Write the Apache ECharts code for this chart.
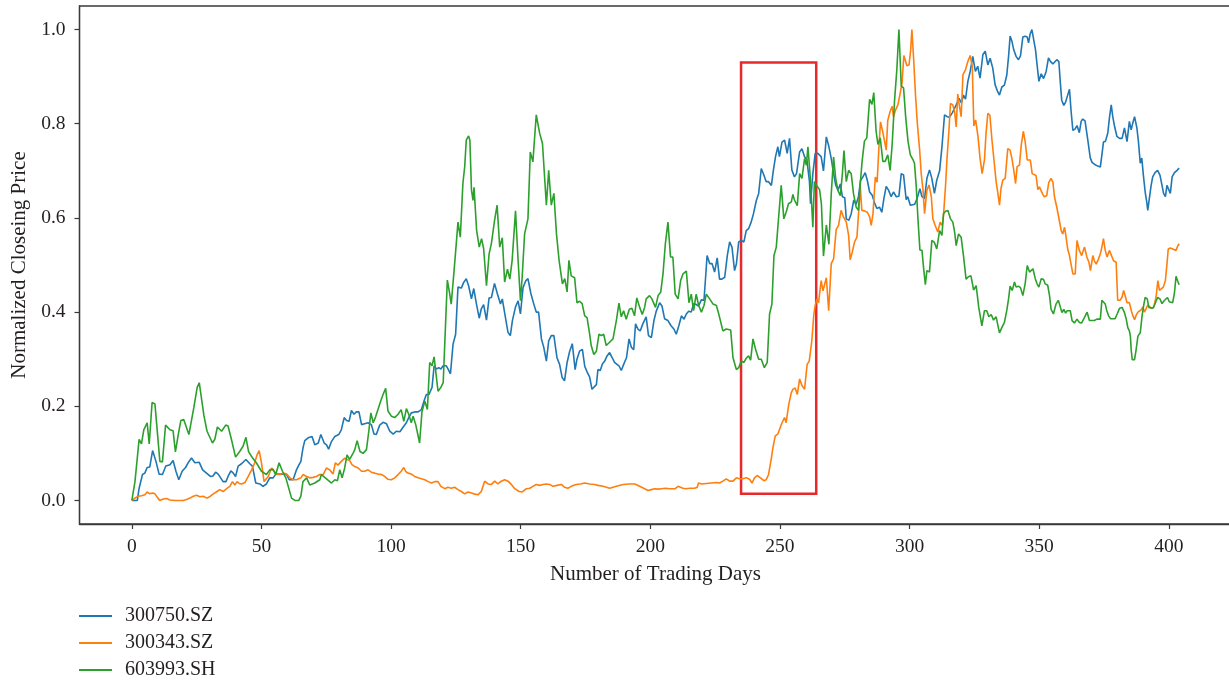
<!DOCTYPE html>
<html>
<head>
<meta charset="utf-8">
<title>Normalized Closeing Price</title>
<script src="https://cdn.jsdelivr.net/npm/echarts@6/dist/echarts.min.js"></script>
<style>
    html, body { margin: 0; padding: 0; background: #fff; }
    #x_echart { width: 1229px; height: 680px; }
</style>
</head>
<body>
<div id="x_echart"></div>
<script>
'use strict';

// tick labels
var xTicks = [0, 50, 100, 150, 200, 250, 300, 350, 400];
var yTicks = [0, 0.2, 0.4, 0.6, 0.8, 1.0];
var names = ['300750.SZ', '300343.SZ', '603993.SH'];

// [trading day, normalized closing price]
var s300750 = [
    [0,0],[0.8,0],[2.1,0],[2.8,0.026],[4.1,0.055],[5,0.058],[5.9,0.07],[6.9,0.071],[8,0.106],[9.3,0.083],
    [10.5,0.056],[11.8,0.055],[13.1,0.073],[14.7,0.076],[15.9,0.085],[17,0.062],[18.1,0.044],[19.4,0.062],[20.7,0.07],[21.7,0.08],
    [23,0.09],[24.3,0.08],[26,0.081],[27.3,0.065],[28.8,0.058],[30.3,0.051],[31.3,0.052],[32.3,0.06],[33.3,0.056],[34,0.058],
    [35.2,0.04],[36.3,0.04],[37.1,0.051],[38.2,0.063],[39.1,0.058],[40,0.051],[41,0.073],[42.3,0.078],[44,0.087],[45.5,0.078],
    [46.5,0.073],[47.8,0.037],[49.4,0.035],[50.6,0.03],[51.9,0.035],[53.2,0.048],[54.5,0.048],[55.5,0.056],[56.8,0.056],[58.4,0.056],
    [59.7,0.055],[60.7,0.044],[62.2,0.044],[63.5,0.065],
    [64.1,0.072],[65.2,0.083],[66,0.111],[66.7,0.127],[68,0.133],[69.5,0.136],[70.6,0.118],[71.9,0.122],[72.9,0.14],[74.2,0.122],
    [75.1,0.118],[75.9,0.109],[77,0.125],[78.3,0.136],[79.8,0.14],[80.8,0.15],[81.9,0.176],[82.8,0.17],[83.8,0.168],[84.7,0.191],
    [85.7,0.183],[86.6,0.188],[87.6,0.188],[88.6,0.161],[89.8,0.163],[91.1,0.165],[92.4,0.161],[93.4,0.141],[94.3,0.14],[95.6,0.16],
    [96.9,0.166],[98.2,0.163],[99.5,0.147],[100.8,0.141],[102,0.147],[103.4,0.146],[104.4,0.154],[105.9,0.165],[106.8,0.176],[107.8,0.186],
    [109.1,0.188],[110.4,0.188],[111.7,0.193],[112.7,0.211],[113.6,0.225],[114.6,0.225],[115.8,0.24],[116.6,0.286],[117.5,0.279],[118.4,0.282],
    [119.2,0.279],[120.1,0.286],[121.3,0.286],[122,0.279],[122.9,0.269],[123.9,0.332],[124.9,0.353],[125.8,0.453],[126.4,0.456],[127.1,0.451],
    [128,0.463],[129,0.471],[129.9,0.456],
    [131,0.428],[131.9,0.45],[132.9,0.418],[134,0.387],[134.8,0.407],[135.7,0.416],[136.8,0.383],[137.8,0.43],[138.7,0.431],[139.9,0.461],
    [141,0.439],[142.2,0.417],[142.9,0.428],[144.1,0.389],[145.1,0.357],[146,0.35],[146.8,0.382],[148,0.411],[149,0.424],[149.9,0.396],
    [150.9,0.452],[152,0.467],[152.8,0.471],[153.9,0.44],[155,0.418],[156,0.4],[156.9,0.4],[158,0.343],[158.9,0.325],[159.9,0.296],
    [160.8,0.339],[161.8,0.35],[162.8,0.35],[164,0.303],[165,0.289],[166,0.261],[166.9,0.254],[167.9,0.293],[168.9,0.317],[169.9,0.333],
    [171,0.278],[171.7,0.3],[172.7,0.317],[173.8,0.321],[174.7,0.285],[175.6,0.273],[176.6,0.262],[177.5,0.236],[178.2,0.232],[179.2,0.246],
    [179.8,0.278],[180.7,0.276],[181.5,0.29],[182.4,0.296],[183.3,0.307],[184.3,0.314],[185.3,0.303],[186.2,0.293],[186.9,0.293],[188,0.285],
    [188.8,0.276],[189.8,0.29],[190.8,0.303],[191.8,0.343],[192.7,0.325],[193.6,0.32],[194.3,0.375],[195.2,0.364],[196.1,0.36],[197.1,0.375],
    [198.4,0.39],
    [199.3,0.35],[200.4,0.346],[201.4,0.382],[202.3,0.402],[203.6,0.42],[204.5,0.413],[205.5,0.386],[206.8,0.382],[208,0.371],[209.1,0.364],
    [210,0.353],[211,0.371],[212,0.392],[213,0.385],[213.9,0.396],[214.8,0.402],[215.8,0.4],[216.7,0.418],[217.7,0.416],[218.6,0.413],
    [219.7,0.426],[220.7,0.425],[221.2,0.464],[221.9,0.52],[222.9,0.503],[223.8,0.503],[224.8,0.485],[225.8,0.515],[226.7,0.47],[227.6,0.47],
    [228.7,0.474],[229.7,0.52],[230.6,0.549],[231.5,0.538],[232.5,0.488],[233.2,0.502],[234.1,0.549],[235.1,0.552],[236.1,0.549],[237,0.573],
    [237.9,0.577],[238.9,0.591],[239.8,0.609],[240.9,0.637],[241.8,0.652],[242.8,0.705],[243.8,0.691],[244.7,0.677],[245.6,0.677],[246.7,0.669],
    [247.5,0.702],[248.3,0.73],[249.2,0.751],[249.8,0.73],[250.8,0.761],[251.8,0.765],[252.8,0.737],[253.7,0.769],[254.6,0.702],[255.6,0.687],
    [256.4,0.694],[257.6,0.74],[258.5,0.747],[259.5,0.73],[260.4,0.723],[261.4,0.677],[261.8,0.63],[262.7,0.694],[263.6,0.737],[264.6,0.737],
    [265.9,0.73],
    [266.8,0.7],[267.9,0.772],[268.9,0.751],[269.8,0.726],[270.7,0.694],[271.5,0.67],[272.4,0.659],[273.3,0.672],[274.1,0.645],[275,0.643],
    [275.6,0.598],[276.6,0.595],[277.5,0.609],[278.5,0.638],[279.4,0.629],[280.3,0.645],[281.1,0.68],[282,0.687],[282.9,0.696],[283.7,0.68],
    [284.6,0.655],[285.6,0.648],[286.5,0.632],[287.4,0.62],[288.4,0.623],[289.3,0.612],[290.1,0.641],[291,0.667],[291.9,0.659],[292.9,0.645],
    [293.8,0.655],[294.9,0.645],[295.9,0.646],[296.8,0.694],[297.7,0.691],[298.7,0.639],[299.3,0.645],[300.3,0.627],[301,0.625],[302,0.629],
    [302.9,0.641],[304,0.662],[304.8,0.645],[305.8,0.641],[306.7,0.684],[307.7,0.702],[308.6,0.684],[309.6,0.652],[310.5,0.68],[311.6,0.7],
    [312.5,0.751],[313.5,0.819],[314.5,0.815],[315.4,0.814],[316.5,0.823],[317.4,0.833],[318,0.84],[319.1,0.854],[320,0.844],[320.8,0.861],
    [321.6,0.852],[322.5,0.89],[323.4,0.911],[324.4,0.943],[325.4,0.911],[326.3,0.922],[327.2,0.897],[328.3,0.947],[329.2,0.954],[330.2,0.925],
    [331.1,0.939],[332.1,0.918],[333,0.883],
    [334,0.868],[334.7,0.861],[335.6,0.878],[336.6,0.882],[337.5,0.903],[338.2,0.943],[338.8,0.986],[339.5,0.975],[340.2,0.957],[341.1,0.943],
    [342,0.936],[342.8,0.944],[343.7,0.984],[344.6,0.986],[345.4,0.984],[345.9,0.972],[346.5,0.99],[347.2,1.0],[347.9,0.999],[348.6,0.957],
    [349.2,0.925],[349.9,0.89],[350.8,0.906],[351.7,0.896],[352.7,0.911],[353.6,0.94],[354.4,0.932],[355.3,0.927],[355.9,0.928],[356.8,0.936],
    [357.6,0.932],[358.2,0.885],[358.7,0.85],[359.5,0.839],[360.2,0.846],[360.8,0.857],[361.7,0.873],[362.3,0.828],[363,0.786],[363.9,0.789],
    [364.6,0.796],[365.5,0.781],[366.2,0.805],[366.8,0.81],[367.7,0.806],[368.8,0.764],[369.7,0.728],[370.4,0.718],[371.3,0.714],[372.6,0.71],
    [373.6,0.708],[374.3,0.738],[374.8,0.761],[375.6,0.763],[376.5,0.781],[377.1,0.812],[377.8,0.84],[378.4,0.815],[379.1,0.794],[380,0.773],
    [381,0.769],[382,0.769],[382.9,0.791],[383.9,0.762],[384.8,0.805],[385.5,0.787],[386.1,0.801],[386.8,0.815],[387.7,0.791],[388.3,0.762],
    [389,0.716],[389.6,0.727],[390.2,0.691],[390.9,0.655],[391.5,0.634],[391.9,0.616],[392.5,0.641],[393.2,0.669],[393.8,0.687],[394.7,0.696],
    [395.7,0.701],[396.6,0.691],[397.4,0.669],[398,0.652],[398.7,0.645],[399.3,0.669],[399.8,0.673],[400.6,0.652],[401.3,0.687],[402.2,0.696],
    [403.2,0.701],[404,0.706]
];

var s300343 = [
    [0,0],[1.2,0.005],[2.4,0.009],[3.7,0.01],[5,0.012],[5.9,0.018],[6.9,0.014],[8,0.016],[8.9,0.014],[9.9,0.006],
    [10.8,0],[12.1,0.003],[13.4,0.004],[14.7,0.001],[16.6,0],[18.3,0],[19.8,0],[21.1,0.002],[22.4,0.005],[23.7,0.009],
    [25,0.011],[26.2,0.008],[27.5,0.009],[29,0.005],[30.3,0.009],[31.4,0.014],[32.6,0.018],[33.9,0.023],[35.2,0.019],[36.8,0.026],
    [37.8,0.03],[38.8,0.04],[39.7,0.033],[40.6,0.04],[41.4,0.036],[42.3,0.035],[43.6,0.038],[44.9,0.051],[46.2,0.065],[47.4,0.08],
    [48.3,0.097],[49.1,0.106],[50,0.08],[51,0.04],[52.6,0.051],[53.9,0.069],[54.8,0.062],[55.8,0.055],[57.1,0.055],[58.4,0.058],
    [59.7,0.056],[61,0.048],[62.2,0.044],[63.5,0.044],
    [64.2,0.042],[65.2,0.048],[66,0.055],[67.4,0.051],[68.6,0.048],[69.9,0.049],[71.2,0.051],[72.5,0.055],[73.8,0.055],[75.1,0.069],
    [76.3,0.065],[77.6,0.056],[78.5,0.08],[79.5,0.075],[80.8,0.083],[82.1,0.09],[83,0.087],[84,0.085],[84.9,0.076],[86,0.072],
    [87.3,0.069],[88.6,0.062],[89.8,0.062],[91.1,0.065],[92.4,0.06],[93.7,0.058],[94.9,0.056],[96.3,0.055],[97.5,0.051],[98.8,0.045],
    [100.1,0.044],[101.4,0.048],[102.7,0.055],[103.9,0.062],[104.9,0.07],[105.6,0.062],[106.5,0.058],[107.8,0.056],[109.1,0.051],[110.4,0.048],
    [111.7,0.046],[113,0.044],[114.3,0.04],[115.6,0.037],[116.8,0.04],[118.1,0.04],[119.2,0.03],[120.7,0.025],[121.9,0.028],[123.2,0.026],
    [124.5,0.028],[125.8,0.023],[127.1,0.019],[128.4,0.014],[129.7,0.018],[131,0.016],
    [131.9,0.014],[133.5,0.012],[134.8,0.019],[136.1,0.041],[137.4,0.035],[138.7,0.034],[140,0.041],[141.2,0.035],[142.5,0.041],[143.8,0.044],
    [145.1,0.041],[146.4,0.034],[147.7,0.025],[149.4,0.019],[150.6,0.018],[152.2,0.025],[153.5,0.026],[154.7,0.03],[156,0.034],[157.3,0.032],
    [158.6,0.034],[159.9,0.035],[161.2,0.034],[162.5,0.03],[164,0.032],[165.7,0.034],[166.9,0.028],[168.2,0.026],[169.5,0.03],[171.4,0.034],
    [173.1,0.035],[174.7,0.037],[176.6,0.035],[178.5,0.034],[179.8,0.032],[181.8,0.03],[184.3,0.026],[186.9,0.03],[189.5,0.034],[191.8,0.035],
    [194,0.035],[195.9,0.03],[197.8,0.025],
    [199.1,0.021],[200.4,0.023],[201.7,0.025],[203,0.024],[204.3,0.025],[205.8,0.026],[207.5,0.025],[209.6,0.025],[210.7,0.03],[211.6,0.028],
    [212.6,0.026],[213.9,0.025],[215.2,0.026],[217.1,0.026],[218.1,0.028],[218.6,0.037],[219.9,0.035],[221.6,0.036],[223.5,0.037],[225.5,0.038],
    [226.7,0.037],[228,0.041],[229.3,0.046],[230.6,0.041],[231.9,0.041],[233.2,0.048],[234.4,0.046],[235.7,0.046],[237,0.048],[238.3,0.045],
    [239.2,0.037],[240.2,0.048],[241.2,0.053],[242.5,0.048],[243.8,0.042],[244.7,0.044],[245.6,0.055],[246.7,0.09],[247.3,0.112],[248.2,0.137],
    [249.2,0.141],[249.8,0.142],[250.8,0.165],[251.8,0.176],[252.4,0.165],[253.4,0.204],[254.4,0.229],[255,0.236],[255.9,0.239],[256.7,0.225],
    [257.6,0.258],[258.5,0.244],[259.5,0.236],[260.5,0.289],[261.3,0.296],[261.8,0.296],[262.3,0.339],[263.1,0.396],[263.6,0.414],[264.3,0.428],
    [264.9,0.42],[265.9,0.467],
    [266.6,0.445],[267.2,0.446],[267.9,0.473],[268.8,0.403],[269.8,0.503],[270.7,0.513],[271.7,0.575],[272.6,0.584],[273.6,0.616],[274.5,0.602],
    [275.6,0.591],[276.5,0.563],[277.1,0.511],[277.9,0.527],[278.8,0.549],[279.7,0.559],[280.5,0.623],[281,0.666],[281.6,0.616],[282.6,0.615],
    [283.7,0.612],[284.6,0.602],[285.2,0.584],[285.9,0.609],[286.8,0.687],[287.5,0.676],[288.2,0.751],[288.8,0.804],[289.5,0.787],[290.4,0.762],
    [291,0.744],[291.6,0.807],[292.5,0.826],[293.3,0.837],[293.8,0.815],[294.6,0.829],[295.5,0.84],[296.4,0.865],[297.1,0.886],[297.8,0.945],
    [298.5,0.932],[299,0.923],[299.8,0.925],[300.4,0.954],[300.9,1.0],[301.6,0.936],[302.3,0.861],[303,0.801],[303.9,0.744],[304.5,0.694],
    [305.2,0.659],[305.8,0.609],[306.7,0.659],[307.5,0.67],[308.4,0.645],[309,0.598],[309.9,0.584],[310.9,0.57],[311.8,0.591],[312.6,0.584],
    [313.1,0.605],[313.9,0.67],[314.5,0.73],[315.2,0.786],[315.8,0.843],[316.7,0.84],[317.4,0.825],[318,0.793],[318.6,0.863],[319.3,0.836],
    [319.9,0.815],[320.6,0.904],[321.6,0.915],[322.5,0.932],[323.4,0.945],[324.2,0.922],[324.8,0.795],[325.5,0.808],[326.4,0.773],[327.2,0.727],
    [328,0.694],[328.9,0.723],[329.5,0.779],[330.2,0.822],[331,0.818],[331.8,0.765],[332.7,0.716],[333.4,0.677],
    [334,0.655],[334.7,0.627],[335.3,0.663],[336,0.68],[336.9,0.684],[337.9,0.747],[338.8,0.744],[339.5,0.726],[340.2,0.702],[340.9,0.673],
    [341.5,0.709],[342.4,0.712],[343.1,0.755],[343.9,0.784],[344.6,0.762],[345.4,0.723],[346,0.72],[346.6,0.723],[347.3,0.694],[347.9,0.691],
    [348.8,0.69],[349.5,0.66],[350.1,0.666],[350.8,0.667],[351.4,0.65],[352,0.645],[352.9,0.647],[353.7,0.675],[354.6,0.684],[355.3,0.676],
    [355.9,0.645],[356.9,0.62],[357.8,0.594],[358.5,0.573],[359.1,0.566],[359.8,0.58],[360.4,0.559],[361,0.534],[361.7,0.52],[362.3,0.502],
    [363,0.481],[363.9,0.481],[364.6,0.552],[365.5,0.531],[366.4,0.52],[367.5,0.538],[368.4,0.517],[369.2,0.506],[369.8,0.488],[370.7,0.52],
    [371.3,0.509],[372,0.502],[372.9,0.513],[373.6,0.524],[374.2,0.538],[374.8,0.556],[375.5,0.531],[376.2,0.517],[377.1,0.531],[377.8,0.534],
    [378.7,0.509],[379.7,0.506],[380.3,0.425],[381.2,0.425],[382,0.432],[382.6,0.446],[383.3,0.432],[383.9,0.42],[384.8,0.42],[385.5,0.404],
    [386.1,0.393],[386.8,0.384],[387.4,0.393],[388.1,0.4],[388.7,0.4],[389.4,0.405],[390,0.411],[390.6,0.4],[391.3,0.408],[391.9,0.415],
    [392.5,0.411],[393.4,0.408],[394.2,0.41],[395.1,0.432],[395.8,0.467],[396.4,0.446],[397,0.446],[397.9,0.453],[398.7,0.467],[399.3,0.502],
    [399.8,0.534],[400.6,0.536],[401.5,0.534],[402.2,0.534],[402.8,0.531],[403.5,0.541],[404,0.545]
];

var s603993 = [
    [0,0],[1.2,0.04],[2.8,0.13],[3.7,0.12],[4.6,0.15],[5.9,0.165],[6.7,0.12],[7.8,0.208],[8.9,0.205],[10.8,0.083],
    [11.8,0.082],[13,0.16],[14.7,0.15],[15.9,0.148],[16.8,0.103],[17.9,0.14],[18.9,0.17],[20,0.172],[22,0.14],[23.9,0.197],
    [25.2,0.24],[26,0.25],[27.8,0.18],[29,0.147],[31.1,0.122],[32,0.13],[33,0.156],[34.6,0.147],[36.2,0.16],[37.1,0.158],
    [38.4,0.13],[40,0.092],[41.6,0.104],[42.9,0.115],[44,0.134],[45,0.104],[46.1,0.094],[48,0.08],[50,0.062],[51.9,0.055],
    [53.2,0.065],[54.5,0.066],[55.5,0.055],[56.8,0.08],[58.1,0.062],[59.4,0.048],[61.6,0.005],[62.9,0],[63.5,0.003],[64.4,0],
    [65.2,0.009],[66,0.04],[67.4,0.048],[68.6,0.033],[70.6,0.037],[72.5,0.044],[73.1,0.055],[75.1,0.046],[77,0.037],[78.3,0.044],
    [79.3,0.042],[80.2,0.065],[81.1,0.048],[82.1,0.069],[83,0.097],[84,0.087],[85.4,0.101],[86,0.108],[86.9,0.127],[88,0.104],
    [89.2,0.1],[90.5,0.108],[91.4,0.147],[92.2,0.186],[93.1,0.165],[94,0.177],[94.7,0.179],[96,0.211],[96.9,0.225],[97.9,0.238],
    [98.8,0.19],[100.1,0.179],[101.4,0.176],[102.7,0.183],[103.9,0.193],[104.9,0.168],[105.9,0.195],[106.8,0.183],[107.8,0.165],[108.5,0.179],
    [109.5,0.161],[111,0.122],[111.9,0.188],[113,0.211],[114,0.193],[114.9,0.293],[115.8,0.286],[116.6,0.305],[117.5,0.261],[118.1,0.232],
    [119.2,0.24],[120.1,0.25],[120.7,0.332],[121.7,0.468],[122.6,0.439],[123.2,0.417],[124.3,0.488],[125.2,0.549],[125.8,0.591],[126.7,0.559],
    [127.7,0.673],[128.4,0.709],[129,0.765],[129.9,0.774],[130.4,0.765],
    [131,0.66],[131.6,0.637],[132,0.665],[133,0.573],[134,0.538],[134.9,0.556],[135.7,0.535],[136.8,0.456],[137.8,0.523],[138.7,0.546],
    [139.9,0.594],[140.9,0.627],[141.9,0.538],[142.9,0.558],[143.8,0.464],[144.9,0.491],[145.8,0.47],[146.7,0.51],[148,0.615],[149,0.51],
    [149.9,0.424],[150.6,0.477],[151.5,0.566],[152.8,0.598],[153.7,0.74],[154.7,0.719],[156,0.819],[157.3,0.78],[158.4,0.758],[158.9,0.755],
    [159.9,0.627],[160.8,0.701],[161.8,0.627],[162.8,0.652],[163.8,0.566],[164.8,0.51],[166.1,0.46],[167,0.471],[167.9,0.443],[168.6,0.51],
    [169.5,0.477],[170.8,0.473],[171.7,0.42],[172.7,0.423],[173.7,0.418],[174.7,0.392],[175.6,0.388],[176.6,0.353],[177.2,0.329],[178.2,0.31],
    [179.2,0.317],[180.2,0.353],[181.1,0.35],[182,0.353],[183,0.329],[184.3,0.336],[185.6,0.343],[186.9,0.382],[187.9,0.419],[188.8,0.39],
    [189.7,0.403],[190.7,0.385],[191.9,0.406],[192.9,0.408],[193.9,0.392],[194.8,0.43],[195.9,0.41],[196.9,0.395],[197.8,0.41],[198.4,0.428],
    [199.7,0.435],[200.6,0.428],[202,0.41],[203,0.435],[204,0.442],[204.9,0.481],[205.8,0.545],[206.8,0.591],[207.8,0.517],[208.7,0.517],
    [209.6,0.438],[210.7,0.428],[211.7,0.467],[212.6,0.481],[213.9,0.487],[214.9,0.42],[215.8,0.438],[216.7,0.403],[217.7,0.438],[218.6,0.415],
    [219.7,0.4],[220.7,0.414],[221.6,0.438],[222.9,0.428],[224.2,0.417],[225.5,0.414],[226.4,0.396],[228,0.36],[229.3,0.364],[231,0.362],
    [231.9,0.303],[233.2,0.278],[234.1,0.282],[235.1,0.296],[236.1,0.293],[237,0.302],[237.9,0.307],[238.7,0.298],[239.6,0.343],[240.6,0.321],
    [241.8,0.3],[242.8,0.3],[244,0.282],[245.1,0.293],[246,0.396],[246.9,0.417],[247.7,0.52],[248.6,0.538],[249.5,0.602],[250.5,0.669],
    [251.5,0.598],[252.4,0.612],[253.3,0.63],[254.4,0.634],[255,0.65],[255.6,0.638],[256.7,0.626],[257.6,0.694],[258.5,0.684],[259.5,0.726],
    [260.2,0.712],[260.8,0.751],[261.7,0.687],[262.7,0.58],[263.3,0.677],[264,0.67],[265.3,0.66],[266,0.63],
    [266.8,0.519],[267.9,0.585],[268.9,0.544],[269.8,0.651],[270.7,0.729],[271.5,0.684],[272.4,0.658],[273.3,0.647],[274.1,0.694],[274.7,0.743],
    [275.6,0.677],[276.5,0.701],[277.5,0.694],[278.4,0.651],[279.4,0.623],[280.3,0.616],[280.9,0.666],[281.7,0.72],[282.6,0.763],[283.5,0.77],
    [284.6,0.852],[285.5,0.841],[286.2,0.866],[287.1,0.784],[287.8,0.756],[288.7,0.77],[289.7,0.72],[290.6,0.72],[291.6,0.734],[292.5,0.701],
    [293.3,0.756],[294.2,0.848],[295.1,0.915],[295.9,1.0],[296.8,0.88],[297.7,0.876],[298.5,0.815],[299.4,0.763],[300.3,0.734],[301.3,0.724],
    [301.9,0.716],[302.6,0.666],[303.2,0.602],[304,0.532],[304.8,0.531],[305.4,0.495],[306.1,0.458],[306.7,0.488],[307.7,0.485],[308.6,0.552],
    [309.6,0.548],[310.5,0.534],[311.6,0.573],[312.5,0.563],[313.1,0.609],[313.9,0.614],[314.8,0.616],[315.8,0.598],[316.7,0.591],[317.4,0.57],
    [318,0.541],[318.9,0.566],[319.9,0.559],[320.8,0.52],[321.8,0.47],[322.7,0.475],[323.7,0.477],[324.7,0.447],[325.7,0.456],[326.7,0.41],
    [327.9,0.371],[328.9,0.403],[329.8,0.403],[330.6,0.39],[331.5,0.395],[332.4,0.383],[333.4,0.39],
    [334.7,0.356],[335.6,0.367],[336.6,0.378],[337.5,0.403],[338.2,0.428],[338.8,0.455],[339.6,0.446],[340.5,0.464],[341.1,0.453],[342,0.455],
    [342.8,0.452],[343.7,0.435],[344.6,0.46],[345.4,0.499],[346.3,0.485],[346.9,0.488],[347.6,0.492],[348.5,0.471],[349.2,0.46],[349.9,0.453],
    [350.8,0.471],[351.7,0.469],[352.3,0.46],[353.3,0.457],[354,0.435],[354.6,0.406],[355.5,0.396],[356.5,0.417],[357.4,0.425],[358.2,0.41],
    [358.8,0.399],[359.5,0.406],[360.2,0.398],[360.8,0.403],[361.4,0.4],[362,0.403],[362.7,0.382],[363.6,0.377],[364.6,0.385],[365.5,0.378],
    [366.4,0.377],[367.5,0.389],[368.5,0.4],[369.4,0.382],[370.4,0.382],[371.3,0.382],[372.3,0.385],[372.9,0.382],[373.6,0.385],[374.2,0.425],
    [374.8,0.425],[375.5,0.417],[376.1,0.403],[376.8,0.392],[377.5,0.386],[378.4,0.386],[379.3,0.386],[380.1,0.396],[381,0.408],[382,0.41],
    [382.9,0.399],[383.6,0.385],[384.2,0.367],[384.8,0.36],[385.2,0.349],[385.5,0.32],[385.9,0.299],[386.8,0.299],[387.4,0.32],[388.1,0.349],
    [389,0.356],[389.7,0.392],[390.4,0.417],[390.9,0.431],[391.7,0.428],[392.3,0.41],[393,0.408],[393.8,0.408],[394.5,0.415],[395.1,0.418],
    [395.7,0.431],[396.6,0.428],[397.4,0.418],[398.2,0.424],[398.9,0.428],[399.5,0.431],[400.2,0.422],[400.8,0.418],[401.5,0.42],[402.2,0.441],
    [402.8,0.476],[403.5,0.465],[404,0.458]
];

// highlighted window: trading days and price range of the red box
var boxDays = [235, 264];
var boxValues = [0.014, 0.93];

var serif = '"Liberation Serif", "Times New Roman", serif';
var txtColor = '#231f20';
var axisColor = '#3a3a3a';

function lineSeries(name, data) {
    return {
        name: name,
        type: 'line',
        data: data,
        symbol: 'none',
        showSymbol: false,
        lineStyle: { width: 1.6 },
        emphasis: { disabled: true }
    };
}

var myChart = echarts.init(document.getElementById('x_echart'), null, { renderer: 'canvas' });

var option = {
    animation: false,
    backgroundColor: '#fff',
    color: ['#1f77b4', '#ff7f0e', '#2ca02c'],
    grid: {
        left: 79.5,
        top: 6,
        width: 1152,
        height: 518,
        show: true,
        borderColor: axisColor,
        borderWidth: 1.3,
        backgroundColor: 'transparent',
        containLabel: false,
        outerBoundsMode: 'none'
    },
    legend: {
        orient: 'vertical',
        left: 79,
        top: 606,
        height: 100,
        padding: 0,
        icon: 'rect',
        itemWidth: 33,
        itemHeight: 2,
        itemGap: 7,
        data: names,
        textStyle: {
            fontFamily: serif,
            fontSize: 20,
            color: txtColor,
            lineHeight: 20,
            padding: [0, 0, 0, 8]
        }
    },
    xAxis: {
        type: 'value',
        min: -20.2,
        max: 424.2,
        name: 'Number of Trading Days',
        nameLocation: 'middle',
        nameGap: 40,
        nameTextStyle: { fontFamily: serif, fontSize: 21, color: txtColor },
        axisLine: { show: true, onZero: false, lineStyle: { color: axisColor, width: 1.3 } },
        axisTick: { show: true, inside: false, length: 5, customValues: xTicks, lineStyle: { color: axisColor, width: 1.2 } },
        axisLabel: { customValues: xTicks, margin: 13, fontFamily: serif, fontSize: 19.5, color: txtColor },
        splitLine: { show: false }
    },
    yAxis: {
        type: 'value',
        min: -0.05,
        max: 1.05,
        name: 'Normalized Closeing Price',
        nameLocation: 'middle',
        nameRotate: 90,
        nameGap: 48,
        nameTextStyle: { fontFamily: serif, fontSize: 21, color: txtColor },
        axisLine: { show: true, onZero: false, lineStyle: { color: axisColor, width: 1.3 } },
        axisTick: { show: true, inside: false, length: 5, customValues: yTicks, lineStyle: { color: axisColor, width: 1.2 } },
        axisLabel: {
            customValues: yTicks,
            margin: 14,
            fontFamily: serif,
            fontSize: 19.5,
            color: txtColor,
            formatter: function (v) { return v.toFixed(1); }
        },
        splitLine: { show: false }
    },
    series: [
        lineSeries(names[0], s300750),
        lineSeries(names[1], s300343),
        lineSeries(names[2], s603993),
        {
            name: 'window',
            type: 'line',
            data: [],
            z: 10,
            silent: true,
            markArea: {
                silent: true,
                itemStyle: { color: 'rgba(0,0,0,0)', borderColor: '#e8292c', borderWidth: 2.5 },
                data: [[
                    { coord: [boxDays[0], boxValues[0]] },
                    { coord: [boxDays[1], boxValues[1]] }
                ]]
            }
        }
    ]
};
myChart.setOption(option);
</script>
</body>
</html>
